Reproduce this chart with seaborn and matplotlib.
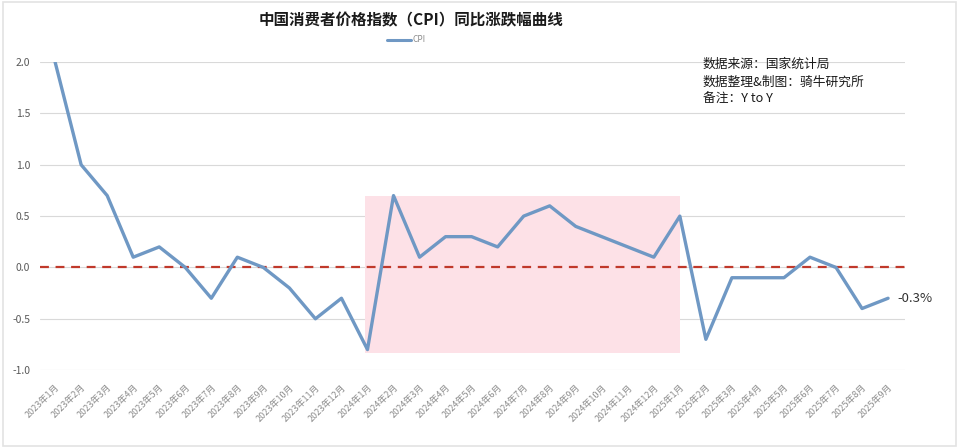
import numpy as np
import pandas as pd
import matplotlib
matplotlib.use('Agg')
import matplotlib.pyplot as plt
from matplotlib.patches import Rectangle
import seaborn as sns

# monthly CPI year-on-year change (%)
months = ['2023年1月', '2023年2月', '2023年3月', '2023年4月', '2023年5月', '2023年6月',
          '2023年7月', '2023年8月', '2023年9月', '2023年10月', '2023年11月', '2023年12月',
          '2024年1月', '2024年2月', '2024年3月', '2024年4月', '2024年5月', '2024年6月',
          '2024年7月', '2024年8月', '2024年9月', '2024年10月', '2024年11月', '2024年12月',
          '2025年1月', '2025年2月', '2025年3月', '2025年4月', '2025年5月', '2025年6月',
          '2025年7月', '2025年8月', '2025年9月']
cpi = [2.0, 1.0, 0.7, 0.1, 0.2, 0.0, -0.3, 0.1, 0.0, -0.2, -0.5, -0.3,
       -0.8, 0.7, 0.1, 0.3, 0.3, 0.2, 0.5, 0.6, 0.4, 0.3, 0.2, 0.1,
       0.5, -0.7, -0.1, -0.1, -0.1, 0.1, 0.0, -0.4, -0.3]
yticks = [-1.0, -0.5, 0.0, 0.5, 1.0, 1.5, 2.0]
notes = ['数据来源：国家统计局', '数据整理&制图：骑牛研究所', '备注：Y to Y']

sns.set_style('white')
plt.rcParams['font.family'] = ['Noto Sans CJK SC', 'DejaVu Sans']

df = pd.DataFrame({'idx': np.arange(len(months)), 'CPI': cpi})

fig = plt.figure(figsize=(9.6, 4.47), dpi=100)
ax = fig.add_axes([0.0417, 0.172, 0.901, 0.689])

# highlighted period
ax.fill_between([11.9, 24.0], -0.83, 0.70, color='#fde1e7', lw=0, zorder=1)

for y in yticks:
    ax.axhline(y, color='#d9d9d9', lw=0.8, zorder=0)
ax.axhline(0, color='#c0392b', ls='--', lw=1.6, dashes=(4, 3), zorder=2)

sns.lineplot(data=df, x='idx', y='CPI', ax=ax, color='#6f98c4', lw=2.4,
             label='CPI', zorder=3, legend=False)

ax.set_xlim(-0.58, 32.65)
ax.set_ylim(-1.0, 2.0)
ax.set_yticks(yticks)
ax.set_yticklabels([f'{v:.1f}' for v in yticks], fontsize=7.5, color='#595959')
ax.set_xticks(df['idx'])
ax.set_xticklabels(months, rotation=45, ha='right', rotation_mode='anchor',
                   fontsize=6.5, color='#8c8c8c')
ax.tick_params(axis='x', length=0, pad=9)
ax.tick_params(axis='y', length=0, pad=7)
ax.set_xlabel('')
ax.set_ylabel('')
for s in ax.spines.values():
    s.set_visible(False)

fig.text(0.428, 0.955, '中国消费者价格指数（CPI）同比涨跌幅曲线', ha='center', va='center',
         fontsize=11.2, fontweight='bold', color='#1a1a1a')

# legend
fig.lines.append(plt.Line2D([0.403, 0.428], [0.911, 0.911], transform=fig.transFigure,
                            color='#6f98c4', lw=2.2))
fig.text(0.430, 0.911, 'CPI', ha='left', va='center', fontsize=6, color='#8c8c8c')

for i, t in enumerate(notes):
    fig.text(0.732, 0.857 - i * 0.04, t, ha='left', va='center', fontsize=9.2, color='#1a1a1a')

ax.text(32.35, -0.3, '-0.3%', ha='left', va='center', fontsize=9.5, color='#333333')

fig.patches.append(Rectangle((0.003, 0.003), 0.993, 0.993, transform=fig.transFigure,
                             fill=False, edgecolor='#e3e3e3', lw=1.2))

fig.savefig('out.png', dpi=100)
